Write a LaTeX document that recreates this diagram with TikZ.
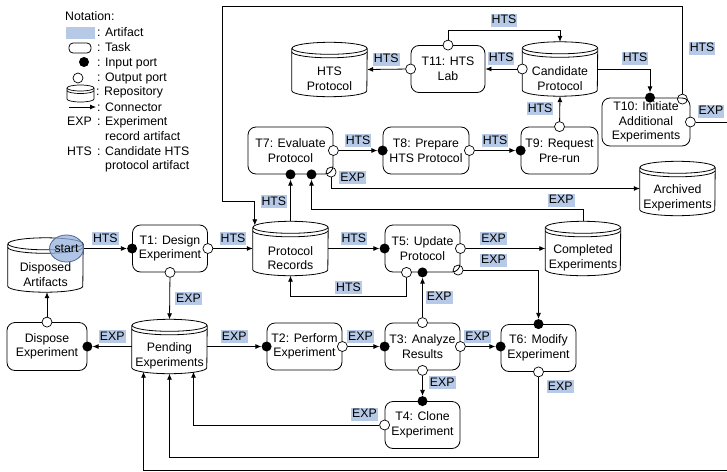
\documentclass[tikz,border=0pt]{standalone}
\usepackage{fontspec}
\setmainfont{Liberation Sans}
\usetikzlibrary{arrows.meta,shapes.geometric}

\definecolor{artblue}{RGB}{182,201,230}
\definecolor{startfill}{RGB}{150,178,220}
\definecolor{startline}{RGB}{80,105,150}

\tikzset{
  task/.style={draw, line width=0.8pt, rounded corners=8pt, minimum width=75pt,
    minimum height=47pt, align=center, inner sep=1pt},
  repobox/.style={minimum width=75pt, minimum height=54pt, inner sep=0pt},
  repotext/.style={align=center, inner sep=0pt},
  inport/.style={circle, fill=black, minimum size=10pt, inner sep=0pt},
  outport/.style={circle, draw, line width=0.7pt, fill=white, minimum size=10pt, inner sep=0pt},
  cport/.style={outport, fill=none},
  art/.style={fill=artblue, inner xsep=1pt, inner ysep=0.5pt, text height=9.5pt, text depth=2.5pt},
  conn/.style={->, line width=0.8pt},
  legtext/.style={anchor=west, inner sep=0pt, text height=9pt, text depth=2.5pt},
}

% repository: name, x, y, text
\newcommand{\repodraw}[4]{%
  \node[repobox] (#1) at (#2,#3) {};
  \node[repotext] (#1txt) at ([yshift=-9.5pt]#1.center) {#4};
  \draw[line width=0.8pt] ([yshift=-6pt]#1.north west) -- ([yshift=6pt]#1.south west)
    arc[start angle=180, end angle=360, x radius=37.5pt, y radius=6pt]
    -- ([yshift=-6pt]#1.north east);
  \draw[line width=0.8pt] ([yshift=-6pt]#1.north) ellipse[x radius=37.5pt, y radius=6pt];
  \draw[line width=0.8pt] ([yshift=-9.5pt]#1.north west)
    arc[start angle=180, end angle=360, x radius=37.5pt, y radius=6pt];
}

\begin{document}
\begin{tikzpicture}[x=1pt, y=-1pt, >={Latex[length=6pt,width=5pt]},
    font=\fontsize{12.3}{14.6}\selectfont]
\useasboundingbox (0,0) rectangle (727,471);

% notation
\foreach \x/\y/\txt [count=\i] in {65/17/Notation:, 97/33/: Artifact, 97/48/: Task,
    97/63/: Input port, 97/78/: Output port, 96/92/: Repository, 97/108/: Connector,
    67/122/EXP, 97/122/: Experiment, 105/137/record artifact,
    67/152/HTS, 97/152/: Candidate HTS, 105/166/protocol artifact}
  \node[legtext] (lg\i) at (\x,\y) {\txt};
\fill[artblue] (66,27) rectangle (95,39);
\draw[line width=0.8pt, rounded corners=4pt] (69,43) rectangle (91,53);
\node[inport] (lgin) at (84,62) {};
\node[outport] (lgout) at (78,78) {};
\draw[line width=0.7pt] (67,88) -- (67,99) arc[start angle=180, end angle=360, x radius=13.5pt, y radius=3pt] -- (94,88);
\draw[line width=0.7pt] (80.5,88) ellipse[x radius=13.5pt, y radius=3pt];
\draw[line width=0.7pt] (67,90.5) arc[start angle=180, end angle=360, x radius=13.5pt, y radius=3pt];
\coordinate (lga) at (69,107);
\coordinate (lgb) at (96,107);
\draw[conn] (lga) -- (lgb);

% repositories
\repodraw{da}{45.5}{265}{Disposed\\Artifacts}
\repodraw{pr}{290.5}{248.5}{Protocol\\Records}
\repodraw{pe}{169.5}{346.5}{Pending\\Experiments}
\repodraw{ce}{583}{248.5}{Completed\\Experiments}
\repodraw{ae}{677.5}{188.5}{Archived\\Experiments}
\repodraw{cp}{560}{69}{Candidate\\Protocol}
\repodraw{hp}{329.5}{69.5}{HTS\\Protocol}

% tasks
\node[task] (t1) at (170,248.5) {T1: Design\\Experiment};
\node[task] (t5) at (422.5,248.5) {T5: Update\\Protocol};
\node[task] (t2) at (304.5,346.5) {T2: Perform\\Experiment};
\node[task] (t3) at (422.5,346.5) {T3: Analyze\\Results};
\node[task] (t4) at (422.5,425) {T4: Clone\\Experiment};
\node[task] (t6) at (538.5,348) {T6: Modify\\Experiment};
\node[task, minimum width=85pt] (t7) at (290.5,150.5) {T7: Evaluate\\Protocol};
\node[task, minimum width=86pt] (t8) at (426,150.5) {T8: Prepare\\HTS Protocol};
\node[task, minimum width=77pt] (t9) at (559.5,150.5) {T9: Request\\Pre-run};
\node[task, minimum width=88pt, minimum height=48pt] (t10) at (646,122) {T10: Initiate\\Additional\\Experiments};
\node[task, minimum width=74pt] (t11) at (448,69) {T11: HTS\\Lab};
\node[task, minimum width=80pt, minimum height=48pt] (dx) at (47,346.5) {Dispose\\Experiment};

% ports
\foreach \p/\at in {t1i/t1.west, t5i/t5.west, t5ib/t5.south, t2i/t2.west, t3i/t3.west,
    t4it/t4.north, t6it/t6.north, t7ia/t7.south, t8i/t8.west, t9i/t9.west, dxi/dx.east}
  \node[inport] (\p) at (\at) {};
\foreach \p/\at in {t1o/t1.east, t1ob/t1.south, t5o/t5.east, t2o/t2.east, t3o/t3.east,
    t3ot/t3.north, t3ob/t3.south, t4o/t4.west, t6ob/t6.south, t7o/t7.east, t8o/t8.east,
    t9ot/t9.north, cpo/cp.west, t11o/t11.west, t11ot/t11.north, t10o/t10.east, dxot/dx.north}
  \node[outport] (\p) at (\at) {};
\node[inport] (t6i) at ([yshift=1.5pt]t6.west) {};
\node[inport] (t7ib) at ([xshift=21pt]t7.south) {};
\node[inport] (t10it) at ([xshift=4pt]t10.north) {};
\node[outport] (t5ob) at ([xshift=-16pt]t5.south) {};
\node[cport] (t5oc) at ([shift={(-2.3pt,2.3pt)}]t5.south east) {};
\node[cport] (t7oc) at ([shift={(-2.3pt,2.3pt)}]t7.south east) {};
\node[cport] (t10oc) at ([shift={(-8pt,-1.5pt)}]t10.north east) {};

\node[ellipse, draw=startline, line width=0.8pt, fill=startfill, fill opacity=0.75,
  text opacity=1, minimum width=33pt, minimum height=27pt, inner sep=0pt] (st) at (66.5,248.5) {start};

% connectors
\draw[conn] (st) -- node[art,above=3pt] {HTS} (t1i);
\draw[conn] (t1o) -- node[art,above=3pt] {HTS} (pr.west);
\draw[conn] (pr.east) -- node[art,above=3pt] {HTS} (t5i);
\draw[conn] (t5ob) -- ++(0,24) -| node[art,above=2pt,pos=0.25] {HTS} (pr.south);
\draw[conn] (t3ot) -- node[art,right=3pt] {EXP} (t5ib);
\draw[conn] (t5o) -- node[art,above=3pt,pos=0.35] {EXP} (ce.west);
\draw[conn] (t5oc) -| node[art,above=3pt,pos=0.2] {EXP} (t6it);
\draw[conn] (ce.north) -- ++(0,-12) -| node[art,above=2pt,pos=0.04] {EXP} (t7ib);
\draw[conn] (t7oc) |- node[art,above=4pt,pos=0.535] {EXP} (ae.west);
\draw[conn] (pr.north) -- node[art,left=3pt,pos=0.47] {HTS} (t7ia);
\draw[conn] (t7o) -- node[art,above=3pt] {HTS} (t8i);
\draw[conn] (t8o) -- node[art,above=3pt] {HTS} (t9i);
\draw[conn] (t9ot) -- node[art,left=6pt] {HTS} (cp.south);
\draw[conn] (cpo) -- node[art,above=4pt] {HTS} (t11.east);
\draw[conn] (t11ot) -- ++(0,-15) -| node[art,above=3pt,pos=0.25] {HTS} (cp.north);
\draw[conn] (t11o) -- node[art,above=3pt] {HTS} (hp.east);
\draw[conn] (cp.east) -| node[art,above=4pt,pos=0.357] {HTS} (t10it);
\draw[conn] (t10oc) -- node[art,right=6pt,pos=0.52] {HTS} ++(0,-93) -| ++(-460,195)
  -| ([xshift=2pt,yshift=-4pt]pr.north west);
\draw[conn] (t10o) -- node[art,above=4pt,pos=0.34] {EXP} ++(50,0) -- ++(0,348)
  -| ([xshift=-26pt,yshift=2pt]pe.south);
\draw[conn] (t6ob) -- node[art,right=8pt,pos=0.12] {EXP} ++(0,85) -| (pe.south);
\draw[conn] (t4o) -| node[art,above=4pt,pos=0.04] {EXP} ([xshift=24pt,yshift=2pt]pe.south);
\draw[conn] (t3ob) -- node[art,right=6pt,pos=0.35] {EXP} (t4it);
\draw[conn] (t3o) -- node[art,above=3pt,pos=0.4] {EXP} (t6i);
\draw[conn] (t2o) -- node[art,above=3pt,pos=0.4] {EXP} (t3i);
\draw[conn] (pe.east) -- node[art,above=3pt] {EXP} (t2i);
\draw[conn] (pe.west) -- node[art,above=3pt] {EXP} (dxi);
\draw[conn] (t1ob) -- node[art,right=5pt] {EXP} (pe.north);
\draw[conn] (dxot) -- (dxot |- da.south);
\end{tikzpicture}
\end{document}
